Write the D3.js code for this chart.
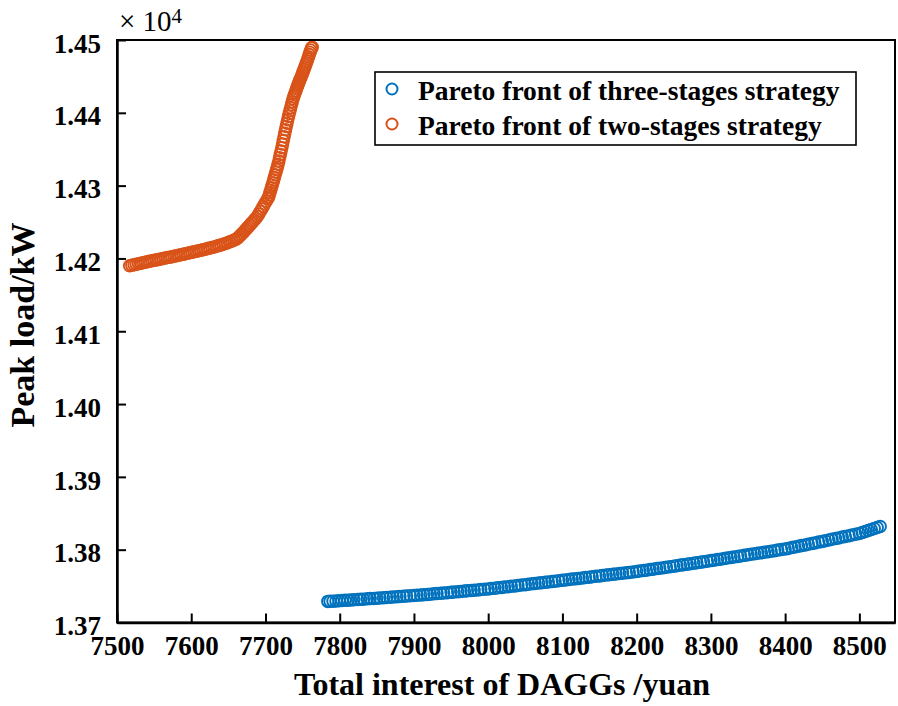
<!DOCTYPE html>
<html><head><meta charset="utf-8">
<script src="https://cdn.jsdelivr.net/npm/d3@7"></script>
<style>body{margin:0;background:#fff}svg{display:block}text{font-family:"Liberation Serif","Times New Roman",serif}</style>
</head><body>
<svg id="c" width="898" height="706"></svg>
<script>
const xTicks = [7500,7600,7700,7800,7900,8000,8100,8200,8300,8400,8500];
const yTicks = [1.37,1.38,1.39,1.40,1.41,1.42,1.43,1.44,1.45];
const yTickLabels = ["1.37","1.38","1.39","1.40","1.41","1.42","1.43","1.44","1.45"];
const seriesNames = ["Pareto front of three-stages strategy","Pareto front of two-stages strategy"];
const xTitle = "Total interest of DAGGs /yuan";
const yTitle = "Peak load/kW";

// three-stages strategy (x: yuan, y: peak load in 1e4 kW)
const threeX = [7784,7787,7791,7795,7799,7803,7807,7811,7815,7819,7824,7828,7832,7837,7841,7846,7850,7854,7859,7863,7868,7872,7877,7881,7886,7890,7895,7900,7904,7909,7913,7918,7922,7927,7931,7936,7940,7945,7950,7954,7959,7963,7968,7972,7977,7981,7986,7990,7995,8000,8004,8009,8013,8018,8022,8027,8031,8036,8040,8045,8050,8054,8059,8063,8068,8072,8077,8081,8086,8090,8095,8100,8104,8109,8113,8118,8122,8127,8131,8136,8140,8145,8150,8154,8159,8163,8168,8172,8177,8181,8186,8190,8195,8200,8204,8209,8213,8218,8222,8227,8231,8236,8240,8245,8250,8254,8259,8263,8268,8272,8277,8281,8286,8290,8295,8300,8304,8309,8313,8318,8322,8327,8331,8336,8340,8345,8350,8354,8359,8363,8368,8372,8377,8381,8386,8390,8395,8400,8404,8409,8413,8418,8422,8427,8431,8436,8440,8445,8450,8454,8459,8463,8468,8472,8477,8481,8486,8490,8495,8500,8504,8508,8512,8516,8520,8524,8528];
const threeY = [1.37290,1.37291,1.37293,1.37296,1.37299,1.37301,1.37304,1.37307,1.37310,1.37312,1.37316,1.37319,1.37321,1.37325,1.37328,1.37331,1.37334,1.37337,1.37341,1.37344,1.37347,1.37350,1.37354,1.37357,1.37361,1.37364,1.37367,1.37371,1.37374,1.37378,1.37382,1.37386,1.37389,1.37394,1.37397,1.37402,1.37405,1.37410,1.37414,1.37418,1.37422,1.37426,1.37431,1.37435,1.37439,1.37443,1.37448,1.37452,1.37456,1.37461,1.37466,1.37471,1.37476,1.37482,1.37487,1.37492,1.37497,1.37503,1.37508,1.37514,1.37520,1.37525,1.37531,1.37536,1.37542,1.37546,1.37552,1.37557,1.37563,1.37568,1.37574,1.37580,1.37585,1.37591,1.37596,1.37602,1.37606,1.37612,1.37617,1.37623,1.37628,1.37634,1.37640,1.37645,1.37651,1.37656,1.37662,1.37666,1.37672,1.37677,1.37683,1.37688,1.37694,1.37700,1.37706,1.37713,1.37719,1.37727,1.37732,1.37740,1.37746,1.37753,1.37759,1.37767,1.37774,1.37780,1.37788,1.37794,1.37801,1.37807,1.37815,1.37821,1.37829,1.37835,1.37842,1.37850,1.37856,1.37864,1.37870,1.37878,1.37885,1.37893,1.37899,1.37907,1.37914,1.37922,1.37930,1.37936,1.37944,1.37951,1.37959,1.37965,1.37973,1.37979,1.37987,1.37994,1.38002,1.38010,1.38018,1.38029,1.38037,1.38047,1.38056,1.38066,1.38074,1.38085,1.38093,1.38104,1.38114,1.38123,1.38134,1.38142,1.38153,1.38162,1.38173,1.38182,1.38193,1.38202,1.38213,1.38224,1.38237,1.38251,1.38264,1.38278,1.38291,1.38305,1.38318];

// two-stages strategy
const twoX = [7517,7520,7523,7526,7529,7532,7535,7538,7541,7544,7547,7550,7553,7556,7559,7562,7565,7568,7571,7574,7577,7580,7583,7586,7589,7592,7595,7598,7601,7604,7607,7610,7613,7616,7619,7622,7625,7628,7631,7634,7637,7640,7643,7646,7649,7652,7655,7658,7661,7663,7665,7667,7669,7671,7673,7675,7677,7679,7681,7683,7685,7687,7689,7691,7693,7695,7697,7699,7701,7703,7704,7705,7706,7707,7708,7709,7710,7711,7712,7713,7714,7715,7716,7717,7718,7719,7720,7721,7722,7723,7724,7725,7726,7727,7728,7729,7730,7731,7732,7733,7734,7735,7736,7737,7738,7739,7740,7741,7742,7743,7744,7745,7746,7747,7748,7749,7750,7751,7752,7753,7754,7755,7756,7757,7758,7759,7760,7761,7762,7763];
const twoY = [1.41900,1.41907,1.41914,1.41921,1.41928,1.41935,1.41942,1.41949,1.41955,1.41961,1.41967,1.41974,1.41980,1.41987,1.41993,1.42000,1.42006,1.42012,1.42018,1.42024,1.42030,1.42037,1.42043,1.42050,1.42056,1.42063,1.42070,1.42077,1.42084,1.42091,1.42098,1.42105,1.42112,1.42120,1.42127,1.42135,1.42142,1.42150,1.42158,1.42167,1.42176,1.42185,1.42195,1.42205,1.42216,1.42228,1.42240,1.42253,1.42267,1.42285,1.42305,1.42325,1.42345,1.42367,1.42390,1.42413,1.42436,1.42459,1.42482,1.42505,1.42528,1.42551,1.42577,1.42610,1.42645,1.42680,1.42715,1.42750,1.42785,1.42820,1.42836,1.42870,1.42904,1.42938,1.42972,1.43006,1.43040,1.43076,1.43112,1.43148,1.43184,1.43220,1.43256,1.43293,1.43338,1.43384,1.43429,1.43474,1.43520,1.43570,1.43620,1.43670,1.43720,1.43766,1.43812,1.43858,1.43904,1.43950,1.43990,1.44030,1.44070,1.44110,1.44150,1.44190,1.44219,1.44247,1.44276,1.44304,1.44333,1.44361,1.44390,1.44416,1.44442,1.44468,1.44493,1.44519,1.44545,1.44571,1.44599,1.44627,1.44655,1.44684,1.44712,1.44740,1.44770,1.44800,1.44830,1.44860,1.44890,1.44900];

const colors = ["#0072BD","#D95319"];

const svg = d3.select("#c");
const m = {l:117, r:895, t:40, b:622.5};
const x = d3.scaleLinear().domain([7500,8548]).range([m.l,m.r]);
const y = d3.scaleLinear().domain([1.37,1.45]).range([m.b,m.t]);

// series
const series = [
  {name:seriesNames[0], xs:threeX, ys:threeY, c:colors[0]},
  {name:seriesNames[1], xs:twoX, ys:twoY, c:colors[1]}
];
series.forEach(s=>{
  svg.append("g").selectAll("circle").data(s.xs.map((v,i)=>[v,s.ys[i]])).join("circle")
    .attr("cx",d=>x(d[0])).attr("cy",d=>y(d[1])).attr("r",5.8)
    .attr("fill","none").attr("stroke",s.c).attr("stroke-width",1.9);
});

// box
svg.append("rect").attr("x",m.l).attr("y",m.t).attr("width",m.r-m.l).attr("height",m.b-m.t)
  .attr("fill","none").attr("stroke","#000").attr("stroke-width",2);

const xa = svg.append("g").attr("transform",`translate(0,${m.b})`)
  .call(d3.axisBottom(x).tickValues(xTicks).tickFormat(d3.format("d")).tickSizeInner(-9).tickSizeOuter(0).tickPadding(13));
const ya = svg.append("g").attr("transform",`translate(${m.l},0)`)
  .call(d3.axisLeft(y).tickValues(yTicks).tickFormat((d,i)=>yTickLabels[i]).tickSizeInner(-9).tickSizeOuter(0).tickPadding(16));
[xa,ya].forEach(a=>{
  a.select(".domain").attr("stroke","#000").attr("stroke-width",2.5);
  a.selectAll(".tick line").attr("stroke","#000").attr("stroke-width",2);
  a.selectAll(".tick text").attr("fill","#000").style("font-size","27px").style("font-weight","bold")
    .style("font-family",'"Liberation Serif",serif');
});
xa.selectAll(".tick text").attr("dy","0.71em");
ya.selectAll(".tick text").attr("dy","0.45em");

// exponent
const ex = svg.append("text").attr("x",119).attr("y",31).style("font-size","29px").attr("fill","#000");
ex.append("tspan").text("\u00d7 10");
ex.append("tspan").attr("dy",-8).style("font-size","21px").text("4");

// titles
svg.append("text").attr("x",502).attr("y",695).attr("text-anchor","middle")
  .style("font-size","32px").style("font-weight","bold").attr("fill","#000").text(xTitle);
svg.append("text").attr("transform","translate(34,325) rotate(-90)").attr("text-anchor","middle")
  .style("font-size","34px").style("font-weight","bold").attr("fill","#000").text(yTitle);

// legend
const lg = svg.append("g");
lg.append("rect").attr("x",375).attr("y",72).attr("width",481).attr("height",73)
  .attr("fill","#fff").attr("stroke","#000").attr("stroke-width",1.6);
series.forEach((s,i)=>{
  const by = 100 + i*35;
  lg.append("circle").attr("cx",392).attr("cy",by-11).attr("r",5.5).attr("fill","none").attr("stroke",s.c).attr("stroke-width",2);
  lg.append("text").attr("x",418).attr("y",by).style("font-size","27.5px").style("font-weight","bold")
    .attr("fill","#000").text(s.name);
});
</script>
</body></html>
